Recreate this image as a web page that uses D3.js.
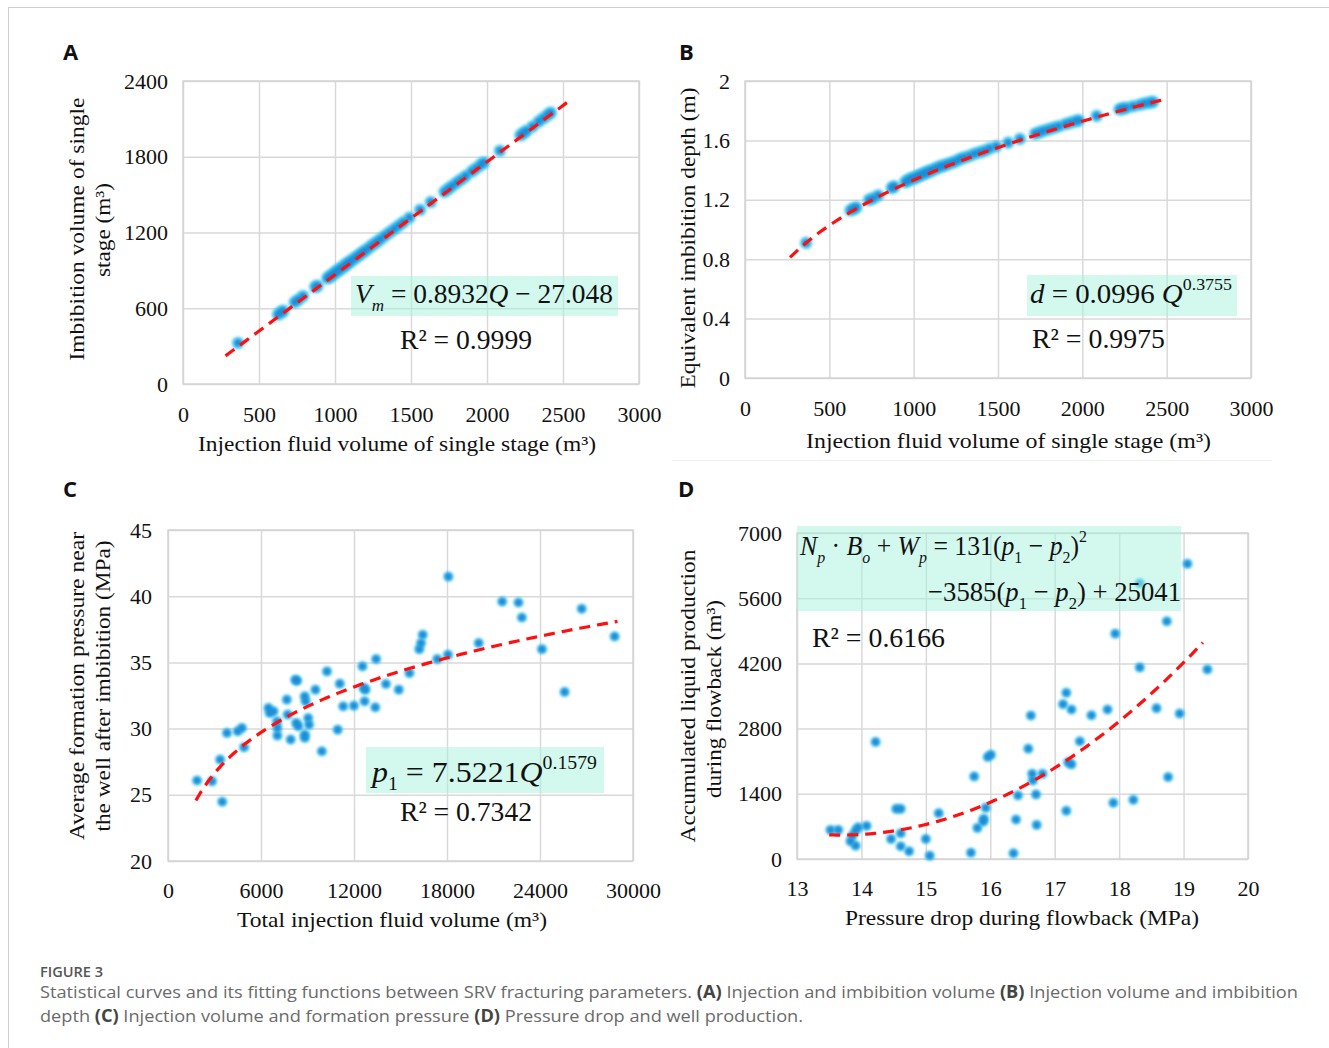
<!DOCTYPE html>
<html lang="en">
<head>
<meta charset="UTF-8"/>
<title>Figure 3 SRV fracturing parameters</title>
<script src="https://d3js.org/d3.v7.min.js"></script>
<style>
	body { margin: 0; background: #fff; }
	svg text { font-family: "Liberation Serif", "Times New Roman", serif; fill: #111; }
	.cap { font-family: "Open Sans", sans-serif; fill: #6a6a6a; }
	.letter { font-family: "Open Sans", "Liberation Sans", sans-serif; font-weight: 700; fill: #111; }
</style>
</head>
<body>
<script>
// injection volume of each stage, used by A and B
var stageQ = [362,625,645,660,735,760,790,870,885,
	950,965,980,995,1010,1025,1040,1055,1070,1085,1100,
	1120,1140,1160,1180,1200,1225,1250,1275,1300,1330,
	1360,1390,1420,1450,1490,1560,1630,
	1720,1745,1770,1800,1830,1860,1900,1930,1960,1980,
	2085,2220,2240,2260,2300,2340,2370,2400,2420];
var imbVol = [325,550,568,580,648,668,697,768,778,
	838,850,862,878,890,905,915,930,942,958,970,
	988,1005,1022,1042,1058,1080,1105,1125,1148,1175,
	1202,1228,1255,1282,1318,1380,1442,
	1522,1545,1568,1595,1620,1648,1684,1710,1738,1755,
	1848,1970,1988,2005,2040,2078,2105,2132,2150];
var imbDepth = [0.91,1.13,1.14,1.15,1.20,1.21,1.23,1.28,1.29,
	1.32,1.33,1.34,1.345,1.35,1.36,1.365,1.375,1.38,1.39,1.395,
	1.405,1.415,1.425,1.43,1.44,1.45,1.46,1.475,1.485,1.495,
	1.51,1.52,1.53,1.545,1.56,1.585,1.61,
	1.645,1.655,1.665,1.675,1.685,1.695,1.71,1.72,1.73,1.735,
	1.765,1.81,1.815,1.82,1.83,1.84,1.85,1.855,1.86];

// C: total injection volume vs formation pressure
var totalQ = [1875,2840,3364,3502,3805,4494,4770,4908,
	6480,6562,6810,7031,7058,7058,7666,7721,7914,
	8217,8327,8272,8410,8824,8879,8824,8824,9044,9099,
	9513,9926,10257,10947,11085,11305,11994,
	12546,12629,12684,12739,13373,13428,14062,14890,15579,
	16213,16324,16434,17371,18061,18088,
	20046,21562,22610,22831,24127,25588,26691,28814];
var formP = [26.08,26.03,27.66,24.47,29.67,29.80,30.05,28.59,
	31.56,31.18,31.31,30.55,30.05,29.47,32.19,31.06,29.17,
	33.69,33.62,30.43,30.18,32.44,32.06,29.55,29.30,30.80,30.30,
	32.94,28.29,34.32,29.92,33.39,31.68,31.73,
	34.70,33.07,32.06,32.94,31.61,35.25,33.37,32.94,34.20,
	36.0,36.46,37.08,35.25,35.58,41.48,
	36.46,39.60,39.52,38.39,36.0,32.77,39.05,36.96];

// D: pressure drop vs accumulated liquid production
var dropP = [13.52,13.64,13.83,13.86,13.91,13.91,13.95,14.08,
	14.22,14.46,14.54,14.61,14.61,14.61,14.74,
	15.0,15.06,15.20,
	15.70,15.75,15.80,15.89,15.90,15.93,15.96,16.01,
	16.36,16.40,16.43,16.59,16.63,16.65,16.66,16.71,16.72,16.81,
	17.13,17.18,17.18,17.21,17.26,17.26,17.39,17.57,
	17.82,17.91,17.94,
	18.22,18.32,18.32,18.58,18.74,18.76,18.94,
	19.06,19.37];
var liquidProd = [625,625,380,503,287,610,682,711,
	2513,431,1077,1077,553,273,165,
	431,72,984,
	136,1773,668,804,862,1098,2190,2240,
	122,847,1364,2369,3080,1831,1687,1386,732,1831,
	3324,3568,1034,2075,2032,3209,2527,3087,
	3209,1206,4839,
	1271,4114,5923,3238,5105,1759,3123,
	6338,4071];

var xTicksA = [0,500,1000,1500,2000,2500,3000];
var yTicksA = [0,600,1200,1800,2400];
var yTicksB = [0,0.4,0.8,1.2,1.6,2];
var xTicksC = [0,6000,12000,18000,24000,30000];
var yTicksC = [20,25,30,35,40,45];
var xTicksD = [13,14,15,16,17,18,19,20];
var yTicksD = [0,1400,2800,4200,5600,7000];

var W = 1329, H = 1048;
var svg = d3.select("body").append("svg").attr("width", W).attr("height", H);
svg.append("rect").attr("width", W).attr("height", H).attr("fill", "#fff");

// page frame
svg.append("line").attr("x1", 8).attr("x2", W).attr("y1", 7.5).attr("y2", 7.5).attr("stroke", "#cfcfcf");
svg.append("line").attr("x1", 8.5).attr("x2", 8.5).attr("y1", 7).attr("y2", H).attr("stroke", "#cfcfcf");
svg.append("line").attr("x1", 672).attr("x2", 1272).attr("y1", 460.5).attr("y2", 460.5).attr("stroke", "#f0f0f0");

var defs = svg.append("defs");
defs.append("filter").attr("id", "glow").attr("x", "-100%").attr("y", "-100%").attr("width", "300%").attr("height", "300%")
	.append("feGaussianBlur").attr("stdDeviation", 1.6);

// text with italic / sub / sup pieces
function rich(sel, x, y, size, parts, len) {
	var t = sel.append("text").attr("x", x).attr("y", y).attr("font-size", size);
	var shift = 0;
	parts.forEach(function(p) {
		var s = p[1] || "";
		var target = s.indexOf("sub") >= 0 ? size * 0.28 : (s.indexOf("sup") >= 0 ? -size * 0.45 : 0);
		var ts = t.append("tspan").attr("dy", target - shift).text(p[0]);
		shift = target;
		if (s.indexOf("i") >= 0) ts.attr("font-style", "italic");
		if (target != 0) ts.attr("font-size", size * 0.62);
	});
	if (len) t.attr("textLength", len).attr("lengthAdjust", "spacingAndGlyphs");
	return t;
}

function panel(o) {
	var g = svg.append("g").attr("transform", "translate(" + o.left + "," + o.top + ")");
	var x = d3.scaleLinear().domain(o.xDomain).range([0, o.w]);
	var y = d3.scaleLinear().domain(o.yDomain).range([o.h, 0]);

	// grid
	g.append("g").attr("transform", "translate(0," + o.h + ")")
		.call(d3.axisBottom(x).tickValues(o.xTicks).tickSize(-o.h).tickFormat(""))
		.call(function(a) { a.select(".domain").remove(); a.selectAll("line").attr("stroke", "#d9d9d9").attr("stroke-width", 1.5); });
	g.append("g")
		.call(d3.axisLeft(y).tickValues(o.yTicks).tickSize(-o.w).tickFormat(""))
		.call(function(a) { a.select(".domain").remove(); a.selectAll("line").attr("stroke", "#d9d9d9").attr("stroke-width", 1.5); });
	g.append("rect").attr("width", o.w).attr("height", o.h).attr("fill", "none").attr("stroke", "#d4d4d4").attr("stroke-width", 1.5);

	// tick labels
	g.append("g").attr("transform", "translate(0," + o.h + ")")
		.call(d3.axisBottom(x).tickValues(o.xTicks).tickSize(0).tickPadding(o.xPad).tickFormat(d3.format("")))
		.call(function(a) { a.select(".domain").remove(); a.selectAll("text").attr("font-size", 22).attr("font-family", null); });
	g.append("g")
		.call(d3.axisLeft(y).tickValues(o.yTicks).tickSize(0).tickPadding(o.yPad).tickFormat(d3.format("")))
		.call(function(a) { a.select(".domain").remove(); a.selectAll("text").attr("font-size", 22).attr("font-family", null); });

	// points
	var pts = o.xs.map(function(d, i) { return [d, o.ys[i]]; });
	g.append("g").selectAll("circle").data(pts).enter().append("circle")
		.attr("cx", function(d) { return x(d[0]); })
		.attr("cy", function(d) { return y(d[1]); })
		.attr("r", o.glowR).attr("fill", "#45c8f2").attr("opacity", 0.85).attr("filter", "url(#glow)");
	g.append("g").selectAll("circle").data(pts).enter().append("circle")
		.attr("cx", function(d) { return x(d[0]); })
		.attr("cy", function(d) { return y(d[1]); })
		.attr("r", 3.6).attr("fill", "#1b8bd6").attr("filter", "url(#glow)");

	// fitted trend
	var fx = d3.range(0, 101).map(function(i) { return o.fitRange[0] + (o.fitRange[1] - o.fitRange[0]) * i / 100; });
	g.append("path").datum(fx)
		.attr("d", d3.line().x(function(d) { return x(d); }).y(function(d) { return y(o.fit(d)); }))
		.attr("fill", "none").attr("stroke", "#ff1010").attr("stroke-width", 3.2).attr("stroke-dasharray", "11,7");
	return g;
}

function box(x0, y0, x1, y1) {
	svg.append("rect").attr("x", x0).attr("y", y0).attr("width", x1 - x0).attr("height", y1 - y0)
		.attr("fill", "#a8f4e0").attr("opacity", 0.5);
}

function ytitle(cx, cy, txt, len) {
	svg.append("text").attr("transform", "translate(" + cx + "," + cy + ") rotate(-90)")
		.attr("text-anchor", "middle").attr("font-size", 22)
		.attr("textLength", len).attr("lengthAdjust", "spacingAndGlyphs").text(txt);
}
function xtitle(x0, y, txt, len) {
	svg.append("text").attr("x", x0).attr("y", y).attr("font-size", 22)
		.attr("textLength", len).attr("lengthAdjust", "spacingAndGlyphs").text(txt);
}

// ---- A ----
panel({left: 183, top: 81, w: 456, h: 303, xDomain: [0, 3000], yDomain: [0, 2400],
	xTicks: xTicksA, yTicks: yTicksA, xPad: 22, yPad: 15, glowR: 6.3,
	xs: stageQ, ys: imbVol, fitRange: [280, 2530],
	fit: function(q) { return 0.8932 * q - 27.048; }});
svg.append("text").attr("class", "letter").attr("x", 63).attr("y", 60).attr("font-size", 22).text("A");
ytitle(84, 229, "Imbibition volume of single", 263);
ytitle(110, 230, "stage (m³)", 94);
xtitle(198, 451, "Injection fluid volume of single stage (m³)", 398);
box(351, 276, 618, 316);
rich(svg, 355, 303, 28, [["V", "i"], ["m", "i sub"], [" = 0.8932", ""], ["Q", "i"], [" − 27.048", ""]], 258);
svg.append("text").attr("x", 400).attr("y", 349).attr("font-size", 28).attr("textLength", 132).attr("lengthAdjust", "spacingAndGlyphs").text("R² = 0.9999");

// ---- B ----
panel({left: 745, top: 81, w: 506, h: 297, xDomain: [0, 3000], yDomain: [0, 2],
	xTicks: xTicksA, yTicks: yTicksB, xPad: 22, yPad: 15, glowR: 6.3,
	xs: stageQ, ys: imbDepth, fitRange: [267, 2480],
	fit: function(q) { return 0.0996 * Math.pow(q, 0.3755); }});
svg.append("text").attr("class", "letter").attr("x", 679).attr("y", 60).attr("font-size", 22).text("B");
ytitle(695, 238, "Equivalent imbibition depth (m)", 301);
xtitle(806, 448, "Injection fluid volume of single stage  (m³)", 405);
box(1027, 275, 1237, 316);
rich(svg, 1030, 303, 28, [["d", "i"], [" = 0.0996 ", ""], ["Q", "i"], ["0.3755", "sup"]], 202);
svg.append("text").attr("x", 1032).attr("y", 348).attr("font-size", 28).attr("textLength", 133).attr("lengthAdjust", "spacingAndGlyphs").text("R² = 0.9975");

// ---- C ----
panel({left: 168, top: 530, w: 465, h: 331, xDomain: [0, 30000], yDomain: [20, 45],
	xTicks: xTicksC, yTicks: yTicksC, xPad: 21, yPad: 16, glowR: 5,
	xs: totalQ, ys: formP, fitRange: [1800, 29000],
	fit: function(q) { return 7.5221 * Math.pow(q, 0.1579); }});
svg.append("text").attr("class", "letter").attr("x", 63).attr("y", 497).attr("font-size", 22).text("C");
ytitle(84, 686, "Average formation pressure near", 308);
ytitle(110, 686, "the well after imbibition (MPa)", 291);
xtitle(237, 927, "Total injection fluid volume (m³)", 310);
box(366, 747, 604, 793);
rich(svg, 372, 782, 30, [["p", "i"], ["1", "sub"], [" = 7.5221", ""], ["Q", "i"], ["0.1579", "sup"]], 225);
svg.append("text").attr("x", 400).attr("y", 821).attr("font-size", 28).attr("textLength", 132).attr("lengthAdjust", "spacingAndGlyphs").text("R² = 0.7342");

// ---- D ----
panel({left: 797, top: 533, w: 451, h: 326, xDomain: [13, 20], yDomain: [0, 7000],
	xTicks: xTicksD, yTicks: yTicksD, xPad: 21, yPad: 15, glowR: 5,
	xs: dropP, ys: liquidProd, fitRange: [13.5, 19.3],
	fit: function(p) { return 131 * p * p - 3585 * p + 25041; }});
svg.append("text").attr("class", "letter").attr("x", 678).attr("y", 497).attr("font-size", 22).text("D");
ytitle(695, 696, "Accumulated liquid production", 293);
ytitle(721, 699, "during flowback (m³)", 198);
xtitle(845, 925, "Pressure drop during flowback (MPa)", 354);
box(797, 526, 1181, 611);
rich(svg, 800, 555, 28, [["N", "i"], ["p", "i sub"], [" · ", ""], ["B", "i"], ["o", "i sub"], [" + ", ""], ["W", "i"], ["p", "i sub"],
	[" = 131(", ""], ["p", "i"], ["1", "sub"], [" − ", ""], ["p", "i"], ["2", "sub"], [")", ""], ["2", "sup"]], 287);
rich(svg, 928, 601, 28, [["−3585(", ""], ["p", "i"], ["1", "sub"], [" − ", ""], ["p", "i"], ["2", "sub"], [") + 25041", ""]], 253);
svg.append("text").attr("x", 812).attr("y", 647).attr("font-size", 28).attr("textLength", 133).attr("lengthAdjust", "spacingAndGlyphs").text("R² = 0.6166");

// ---- caption ----
svg.append("text").attr("class", "cap").attr("x", 40).attr("y", 977).attr("font-size", 14).attr("font-weight", 600)
	.style("fill", "#555").attr("textLength", 63).attr("lengthAdjust", "spacingAndGlyphs").text("FIGURE 3");
function caption(y, parts, len) {
	var t = svg.append("text").attr("class", "cap").attr("x", 40).attr("y", y).attr("font-size", 17)
		.attr("textLength", len).attr("lengthAdjust", "spacingAndGlyphs");
	parts.forEach(function(p) {
		var ts = t.append("tspan").text(p[0]);
		if (p[1]) ts.attr("font-weight", 700).style("fill", "#444");
	});
}
caption(998, [["Statistical curves and its fitting functions between SRV fracturing parameters. "], ["(A)", 1],
	[" Injection and imbibition volume "], ["(B)", 1], [" Injection volume and imbibition"]], 1258);
caption(1022, [["depth "], ["(C)", 1], [" Injection volume and formation pressure "], ["(D)", 1],
	[" Pressure drop and well production."]], 763);
</script>
</body>
</html>
